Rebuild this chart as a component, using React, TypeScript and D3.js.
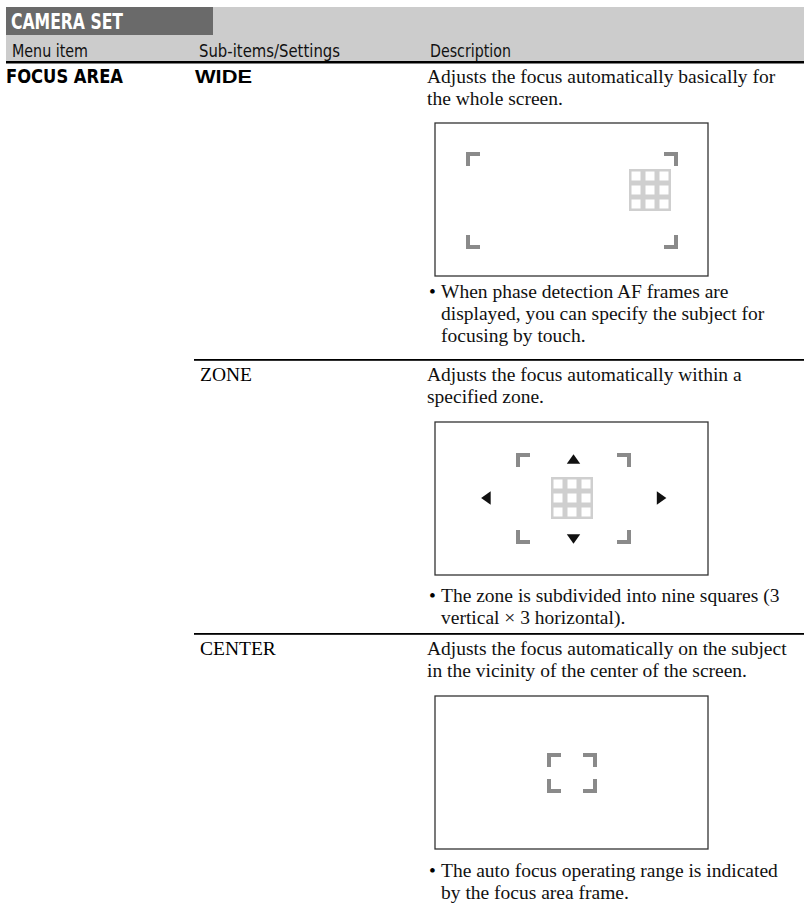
import React, { useEffect, useRef } from "react";
import * as d3 from "d3";

// table content
const sectionTitle = "CAMERA SET";
const columnHeads = ["Menu item", "Sub-items/Settings", "Description"];
const menuItem = "FOCUS AREA";
const settings = ["WIDE", "ZONE", "CENTER"];
const descriptions = [
  ["Adjusts the focus automatically basically for", "the whole screen."],
  ["Adjusts the focus automatically within a", "specified zone."],
  ["Adjusts the focus automatically on the subject", "in the vicinity of the center of the screen."],
];
const notes = [
  ["When phase detection AF frames are", "displayed, you can specify the subject for", "focusing by touch."],
  ["The zone is subdivided into nine squares (3", "vertical \u00d7 3 horizontal)."],
  ["The auto focus operating range is indicated", "by the focus area frame."],
];

// screen diagrams, in screen units (0..273 x 0..153)
const frames = [
  { x0: 31, x1: 243, y0: 29, y1: 126 },
  { x0: 81, x1: 196, y0: 31, y1: 122 },
  { x0: 112, x1: 162, y0: 57, y1: 97 },
];
const grids = [{ x: 194, y: 46 }, { x: 116, y: 55 }, null];
const arrows = [
  [],
  [
    { dir: "up", x: 138.5, y: 38.5 },
    { dir: "down", x: 138.5, y: 115.5 },
    { dir: "left", x: 52.5, y: 76 },
    { dir: "right", x: 225, y: 76 },
  ],
  [],
];

// vertical layout
const rowTextY = [83, 381, 655];
const boxTopY = [123, 422, 696];
const noteY = [298, 602, 877];
const rowLineY = [360, 634];

const SERIF = "'Liberation Serif', 'Times New Roman', Times, serif";
const NARROW = "'Liberation Sans Narrow', 'DejaVu Sans Condensed', 'Arial Narrow', sans-serif";
const SANS = "'Liberation Sans', Arial, Helvetica, sans-serif";

export default function App() {
  const ref = useRef<SVGSVGElement>(null);

  useEffect(() => {
    const svg = d3.select(ref.current);
    svg.selectAll("*").remove();

    const W = 804;
    const lineH = 22;
    const colX = [6, 195, 427];

    // header band
    svg.append("rect").attr("x", 6).attr("y", 7).attr("width", W - 6).attr("height", 54).attr("fill", "#cccccc");
    svg.append("rect").attr("x", 6).attr("y", 7).attr("width", 207).attr("height", 28).attr("fill", "#6a6a6a");
    svg.append("text").attr("x", 11).attr("y", 29)
      .attr("font-family", NARROW).attr("font-weight", "bold").attr("font-size", 22)
      .attr("fill", "#fff").attr("textLength", 112).attr("lengthAdjust", "spacingAndGlyphs")
      .text(sectionTitle);

    const headW = [76, 141, 81];
    const headX = [12, 199, 430];
    svg.selectAll("text.head").data(columnHeads).enter().append("text")
      .attr("class", "head")
      .attr("x", (d, i) => headX[i]).attr("y", 56.5)
      .attr("font-family", NARROW).attr("font-size", 17.5).attr("fill", "#111")
      .attr("textLength", (d, i) => headW[i]).attr("lengthAdjust", "spacingAndGlyphs")
      .text(d => d);
    svg.append("rect").attr("x", 6).attr("y", 61).attr("width", W - 6).attr("height", 2.5).attr("fill", "#000");

    // menu item
    svg.append("text").attr("x", colX[0]).attr("y", rowTextY[0])
      .attr("font-family", NARROW).attr("font-weight", "bold").attr("font-size", 19.5)
      .attr("textLength", 117).attr("lengthAdjust", "spacingAndGlyphs")
      .text(menuItem);

    // row separators
    svg.selectAll("rect.sep").data(rowLineY).enter().append("rect")
      .attr("class", "sep")
      .attr("x", 194).attr("y", d => d - 1).attr("width", W - 194).attr("height", 1.8).attr("fill", "#000");

    settings.forEach((s, i) => {
      const g = svg.append("g");

      // setting name (first one in bold sans, others in serif)
      const t = g.append("text").attr("y", rowTextY[i]).text(s);
      if (i === 0) {
        t.attr("x", colX[1]).attr("font-family", SANS).attr("font-weight", "bold").attr("font-size", 19)
          .attr("textLength", 57).attr("lengthAdjust", "spacingAndGlyphs");
      } else {
        t.attr("x", colX[1] + 5).attr("font-family", SERIF).attr("font-size", 19.5);
      }

      // description
      g.selectAll("text.desc").data(descriptions[i]).enter().append("text")
        .attr("class", "desc")
        .attr("x", colX[2]).attr("y", (d, j) => rowTextY[i] + j * lineH)
        .attr("font-family", SERIF).attr("font-size", 19.5).attr("fill", "#111")
        .text(d => d);

      // diagram
      const x = d3.scaleLinear().domain([0, 273]).range([435, 708]);
      const y = d3.scaleLinear().domain([0, 153]).range([boxTopY[i], boxTopY[i] + 153]);
      g.append("rect").attr("x", x(0)).attr("y", y(0)).attr("width", x(273) - x(0)).attr("height", y(153) - y(0))
        .attr("fill", "#fff").attr("stroke", "#333").attr("stroke-width", 1.3);

      const f = frames[i];
      const arm = 14, th = 4;
      const corners = [
        { cx: x(f.x0), cy: y(f.y0), sx: 1, sy: 1 },
        { cx: x(f.x1), cy: y(f.y0), sx: -1, sy: 1 },
        { cx: x(f.x0), cy: y(f.y1), sx: 1, sy: -1 },
        { cx: x(f.x1), cy: y(f.y1), sx: -1, sy: -1 },
      ];
      corners.forEach(c => {
        g.append("path")
          .attr("d", `M${c.cx},${c.cy} h${c.sx * arm} v${c.sy * th} h${-c.sx * (arm - th)} v${c.sy * (arm - th)} h${-c.sx * th} Z`)
          .attr("fill", "#8a8a8a");
      });

      const gr = grids[i];
      if (gr) {
        const cells = d3.range(9).map(k => ({ r: Math.floor(k / 3), c: k % 3 }));
        g.selectAll("rect.cell").data(cells).enter().append("rect")
          .attr("class", "cell")
          .attr("x", d => x(gr.x + d.c * 14) + 1.25).attr("y", d => y(gr.y + d.r * 14) + 1.25)
          .attr("width", 11.5).attr("height", 11.5)
          .attr("fill", "#fff").attr("stroke", "#cfcfcf").attr("stroke-width", 2.5);
      }

      const tri = d3.symbol().type(d3.symbolTriangle).size(78);
      const rot: Record<string, number> = { up: 0, right: 90, down: 180, left: 270 };
      g.selectAll("path.arrow").data(arrows[i]).enter().append("path")
        .attr("class", "arrow")
        .attr("d", tri)
        .attr("transform", d => `translate(${x(d.x)},${y(d.y)}) rotate(${rot[d.dir]}) scale(1.0,0.82)`)
        .attr("fill", "#111");

      // notes
      g.append("text").attr("x", 429).attr("y", noteY[i])
        .attr("font-family", SERIF).attr("font-size", 19.5).text("\u2022");
      g.selectAll("text.note").data(notes[i]).enter().append("text")
        .attr("class", "note")
        .attr("x", 441).attr("y", (d, j) => noteY[i] + j * lineH)
        .attr("font-family", SERIF).attr("font-size", 19.5).attr("fill", "#111")
        .text(d => d);
    });
  }, []);

  return (
    <svg ref={ref} width={804} height={906}
      style={{ position: "absolute", left: 0, top: 0, background: "#fff" }} />
  );
}
